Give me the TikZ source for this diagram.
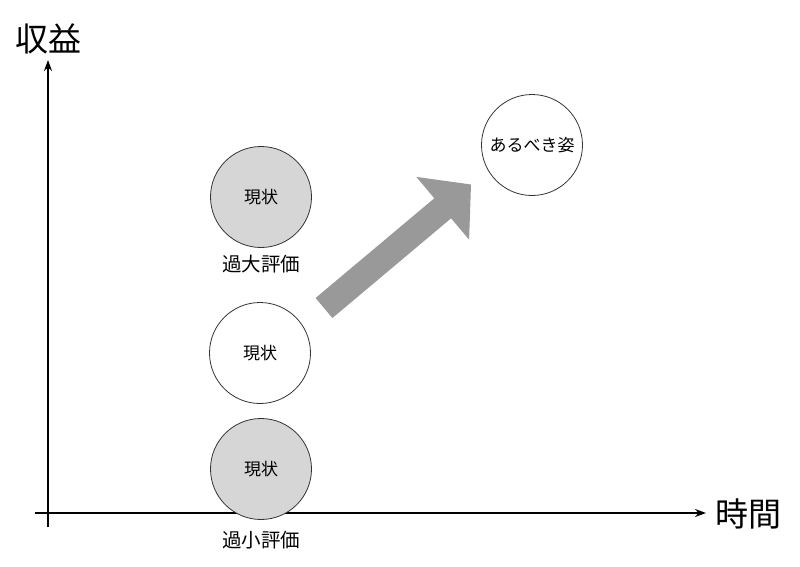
\documentclass[tikz,border=0pt]{standalone}
\usepackage{fontspec}
\setmainfont{Noto Sans CJK JP}
\usetikzlibrary{arrows.meta}
\begin{document}
\begin{tikzpicture}[x=1pt,y=-1pt,
  axis/.style={line width=2pt,-{Stealth[length=11pt,width=8pt]}},
  bubble/.style={circle,draw=black!80,line width=0.8pt,minimum size=101pt,inner sep=0pt,font=\fontsize{17}{20}\selectfont},
  grayb/.style={bubble,fill=black!16},
  whiteb/.style={bubble,fill=white},
  tag/.style={font=\fontsize{19.5}{22}\selectfont},
  axlabel/.style={font=\fontsize{33}{36}\selectfont}]
\useasboundingbox (0,0) rectangle (800,566);
\fill[white] (0,0) rectangle (800,566);
% axes
\coordinate (xs) at (35,513);
\coordinate (xe) at (706,513);
\coordinate (ys) at (48,527);
\coordinate (ye) at (48,60);
\draw[axis] (xs) -- (xe);
\draw[axis] (ys) -- (ye);
\node[axlabel] (ylab) at (49,39) {収益};
\node[axlabel] (xlab) at (748,514) {時間};
% bubbles
\node[grayb] (over) at (261,197) {現状};
\node[tag] (overlab) at (261,264) {過大評価};
\node[whiteb] (now) at (260,353) {現状};
\node[grayb] (under) at (261,469) {現状};
\node[tag] (underlab) at (261,540) {過小評価};
\node[whiteb] (goal) at (532,145) {あるべき姿};
% block arrow
\fill[black!40] (315.6,298) -- (434.3,198.3) -- (416.4,176.9) -- (471,184.5)
  -- (469.1,239.7) -- (451.1,218.3) -- (332.4,318) -- cycle;
\end{tikzpicture}
\end{document}
